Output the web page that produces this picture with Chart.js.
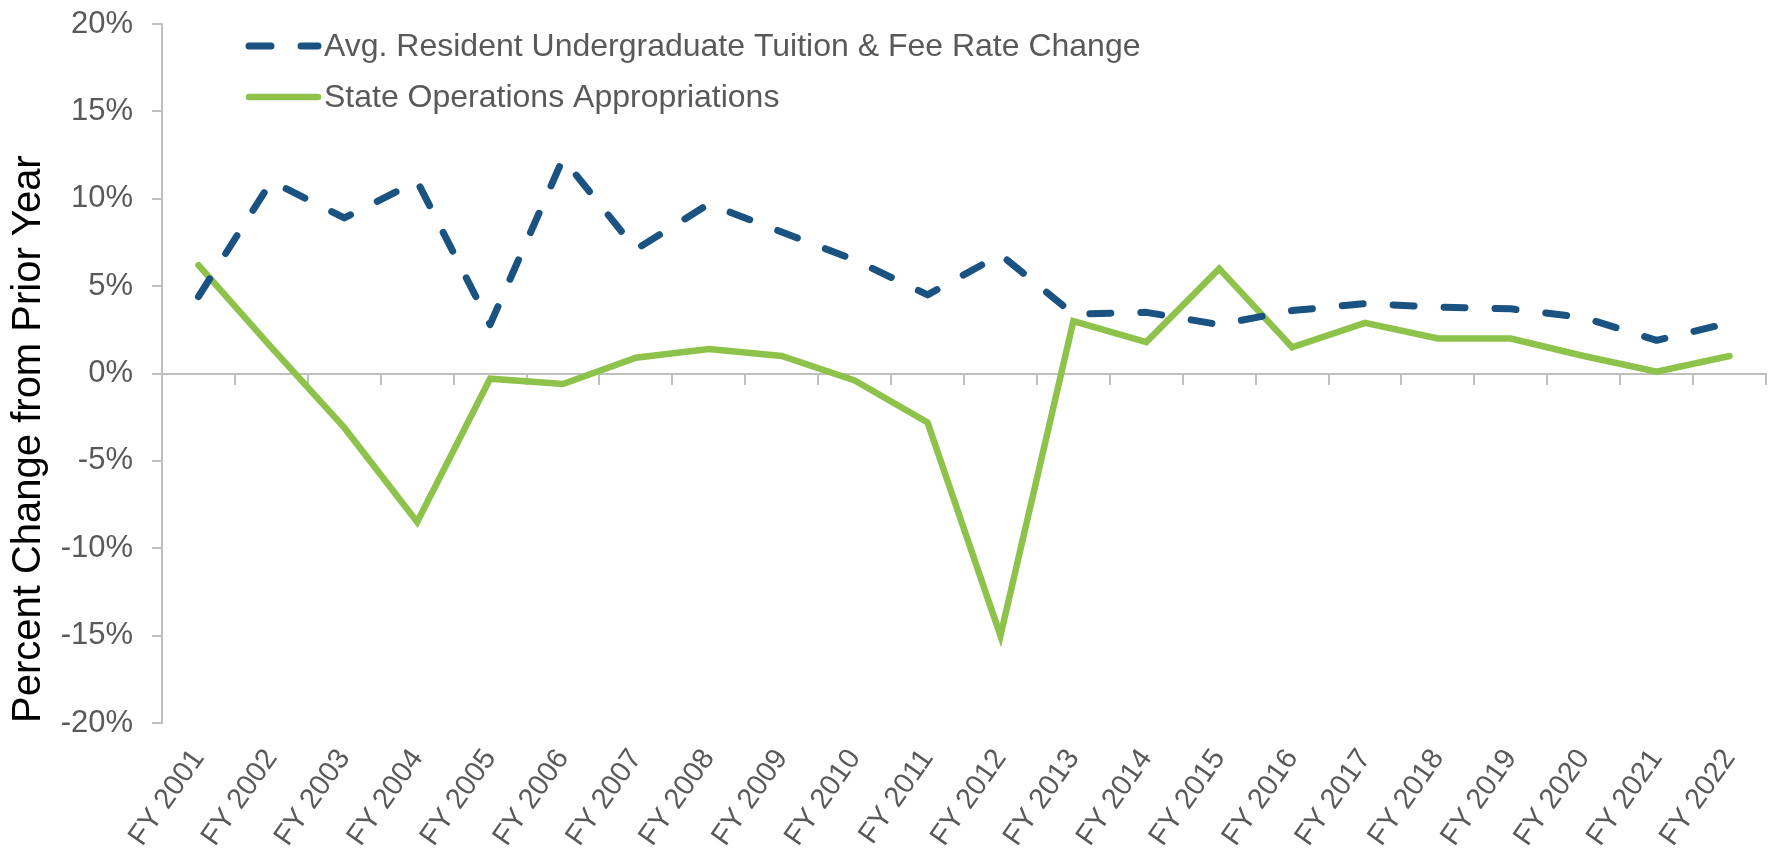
<!DOCTYPE html>
<html>
<head>
<meta charset="utf-8">
<script src="https://cdn.jsdelivr.net/npm/chart.js@4"></script>
<style>
    html, body { margin: 0; padding: 0; background: #ffffff; }
    #wrap { width: 1773px; height: 859px; }
</style>
</head>
<body>
<div id="wrap"><canvas id="trendChart" width="1773" height="859"></canvas></div>
<script>
// fiscal years on the x axis
const years = [
    "FY 2001", "FY 2002", "FY 2003", "FY 2004", "FY 2005", "FY 2006",
    "FY 2007", "FY 2008", "FY 2009", "FY 2010", "FY 2011", "FY 2012",
    "FY 2013", "FY 2014", "FY 2015", "FY 2016", "FY 2017", "FY 2018",
    "FY 2019", "FY 2020", "FY 2021", "FY 2022"
];

// percent change from prior year
const tuitionChange = [
    4.4, 11.0, 8.9, 11.0, 2.8, 12.3, 7.1, 9.7, 8.1, 6.5, 4.5,
    6.8, 3.4, 3.5, 2.8, 3.6, 4.0, 3.8, 3.7, 3.2, 1.9, 2.9
];

const stateAppropriations = [
    6.2, 1.5, -3.1, -8.5, -0.3, -0.6, 0.9, 1.4, 1.0, -0.4, -2.8,
    -15.0, 3.0, 1.8, 6.0, 1.5, 2.9, 2.0, 2.0, 1.0, 0.1, 1.0
];

const yTicks = [-20, -15, -10, -5, 0, 5, 10, 15, 20];

const FONT = "'Liberation Sans', Arial, sans-serif";
const GREY_TEXT = "#595959";
const AXIS_GREY = "#bfbfbf";

// legend sits inside the plot, top left, like the original
const insideLegend = {
    id: "insideLegend",
    afterDraw(chart) {
        const ctx = chart.ctx;
        const rows = [46, 97];
        ctx.save();
        chart.data.datasets.forEach((ds, i) => {
            const y = rows[i];
            ctx.beginPath();
            ctx.lineWidth = ds.borderWidth;
            ctx.strokeStyle = ds.borderColor;
            ctx.lineCap = "round";
            ctx.setLineDash(ds.borderDash ? [22, 30] : []);
            ctx.moveTo(249, y);
            ctx.lineTo(318, y);
            ctx.stroke();
            ctx.setLineDash([]);
            ctx.fillStyle = GREY_TEXT;
            ctx.font = "32px " + FONT;
            ctx.textAlign = "left";
            ctx.textBaseline = "middle";
            ctx.fillText(ds.label, 324, y + 1);
        });
        ctx.restore();
    }
};

const ctx = document.getElementById("trendChart");

new Chart(ctx, {
    type: "line",
    data: {
        labels: years,
        datasets: [
            {
                label: "Avg. Resident Undergraduate Tuition & Fee Rate Change",
                data: tuitionChange,
                borderColor: "#1a5281",
                borderWidth: 7,
                borderDash: [21, 30],
                borderCapStyle: "round",
                borderJoinStyle: "round",
                pointRadius: 0,
                tension: 0
            },
            {
                label: "State Operations Appropriations",
                data: stateAppropriations,
                borderColor: "#8dc24b",
                borderWidth: 6.5,
                borderCapStyle: "round",
                borderJoinStyle: "miter",
                pointRadius: 0,
                tension: 0
            }
        ]
    },
    options: {
        responsive: false,
        animation: false,
        layout: {
            padding: { top: 24, right: 7, bottom: 0, left: 0 }
        },
        plugins: {
            legend: { display: false },
            tooltip: { enabled: false }
        },
        scales: {
            x: {
                type: "category",
                offset: true,
                grid: { display: false },
                border: { display: false },
                ticks: {
                    autoSkip: false,
                    maxRotation: 55,
                    minRotation: 55,
                    padding: 12,
                    color: GREY_TEXT,
                    font: { family: FONT, size: 29 }
                },
                afterFit: (scale) => {
                    scale.height = 136;
                    scale.paddingLeft = 0;
                    scale.paddingRight = 0;
                }
            },
            // second x axis sitting on the zero line, only for the tick marks
            x0: {
                type: "category",
                labels: years,
                position: { y: 0 },
                offset: true,
                grid: {
                    offset: true,
                    drawOnChartArea: false,
                    drawTicks: true,
                    tickLength: 10,
                    color: AXIS_GREY,
                    lineWidth: 2
                },
                border: { color: AXIS_GREY, width: 2 },
                ticks: { display: false }
            },
            y: {
                min: -20,
                max: 20,
                afterBuildTicks: (scale) => {
                    scale.ticks = yTicks.map(v => ({ value: v }));
                },
                grid: {
                    drawOnChartArea: false,
                    drawTicks: true,
                    tickLength: 10,
                    color: AXIS_GREY,
                    lineWidth: 2
                },
                border: { color: AXIS_GREY, width: 2 },
                ticks: {
                    padding: 19,
                    color: GREY_TEXT,
                    font: { family: FONT, size: 31 },
                    callback: (v) => v + "%"
                },
                title: {
                    display: true,
                    text: "Percent Change from Prior Year",
                    align: "start",
                    color: "#000000",
                    font: { family: FONT, size: 40 },
                    padding: { top: 5, bottom: 4 }
                },
                afterFit: (scale) => {
                    scale.width = 162;
                    scale.paddingTop = 0;
                    scale.paddingBottom = 0;
                }
            }
        }
    },
    plugins: [insideLegend]
});
</script>
</body>
</html>
